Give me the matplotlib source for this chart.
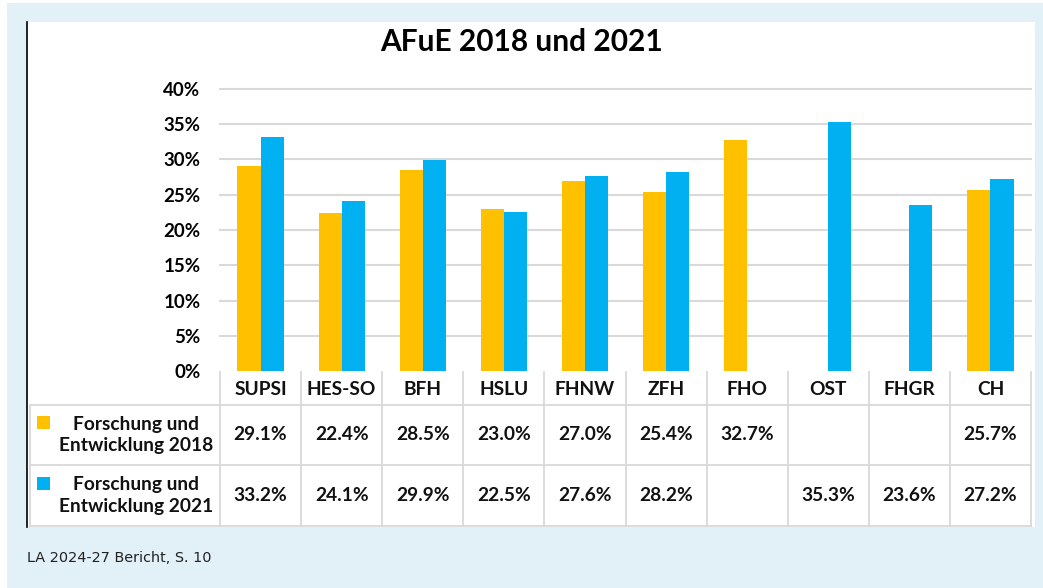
import matplotlib.pyplot as plt
from matplotlib.patches import Rectangle
from matplotlib.lines import Line2D

categories = ['SUPSI', 'HES-SO', 'BFH', 'HSLU', 'FHNW', 'ZFH', 'FHO', 'OST', 'FHGR', 'CH']
values_2018 = [29.1, 22.4, 28.5, 23.0, 27.0, 25.4, 32.7, None, None, 25.7]
values_2021 = [33.2, 24.1, 29.9, 22.5, 27.6, 28.2, None, 35.3, 23.6, 27.2]
series_labels = ['Forschung und\nEntwicklung 2018', 'Forschung und\nEntwicklung 2021']
title = 'AFuE 2018 und 2021'
caption = 'LA 2024-27 Bericht, S. 10'

orange = '#FFC000'
blue = '#00B0F0'
grid_col = '#D9D9D9'
font = 'Lato'

W, H = 1043, 588
fig = plt.figure(figsize=(W / 100, H / 100), dpi=100, facecolor='#E2F0F7')


def px(x0, y0, x1, y1):
    # pixel box (top-left origin) -> figure rect
    return [x0 / W, 1 - y1 / H, (x1 - x0) / W, (y1 - y0) / H]


# white panel with black left edge
bg = fig.add_axes([0, 0, 1, 1])
bg.set_xlim(0, W)
bg.set_ylim(H, 0)
bg.axis('off')
bg.add_patch(Rectangle((0, 0), W, 3, color='white', lw=0))
bg.add_patch(Rectangle((0, 0), 7, H, color='white', lw=0))
bg.add_patch(Rectangle((27, 22), 1008, 505, color='white', lw=0))
bg.add_line(Line2D([27, 27], [22, 527], color='black', lw=1.2))
bg.text(522, 42, title, ha='center', va='center', fontsize=21.5, fontweight='bold', family=font)
bg.text(27, 558, caption, ha='left', va='center', fontsize=10.4, family='DejaVu Sans', color='#222222')

# bar chart
ax = fig.add_axes(px(220, 89, 1031, 371))
n = len(categories)
xs = list(range(n))
bw = 0.285
for i in xs:
    if values_2018[i] is not None:
        ax.bar(i - bw / 2, values_2018[i] / 100, width=bw, color=orange, zorder=3)
    if values_2021[i] is not None:
        ax.bar(i + bw / 2, values_2021[i] / 100, width=bw, color=blue, zorder=3)
ax.set_xlim(-0.5, n - 0.5)
ax.set_ylim(0, 0.40)
yt = [0.05 * k for k in range(9)]
ax.set_yticks(yt)
ax.set_yticklabels(['%d%%' % round(v * 100) for v in yt], fontsize=13.5, fontweight='bold', family=font)
ax.tick_params(axis='y', length=0, pad=14)
ax.set_xticks([])
for v in yt[1:]:
    ax.axhline(v, color=grid_col, lw=1.5, zorder=1, clip_on=False)
for s in ax.spines.values():
    s.set_visible(False)
ax.patch.set_alpha(0)

# data table under the chart
tx0, tx1 = 30, 1031
col0 = 220
cw = (tx1 - col0) / n
y_head, y_r1, y_r2, y_end = 372, 405, 465, 526
for k in range(n + 1):
    x = col0 + k * cw
    bg.add_line(Line2D([x, x], [y_head, y_end], color=grid_col, lw=1.3))
bg.add_line(Line2D([tx0, tx0], [y_r1, y_end], color=grid_col, lw=1.3))
for y in [y_r1, y_r2, y_end]:
    bg.add_line(Line2D([tx0, tx1], [y, y], color=grid_col, lw=1.3))

txt_kw = dict(fontsize=13.8, fontweight='bold', family=font, color='#111111')
for i, c in enumerate(categories):
    cx = col0 + (i + 0.5) * cw
    bg.text(cx, (y_head + y_r1) / 2 + 1, c, ha='center', va='center', **txt_kw)
    if values_2018[i] is not None:
        bg.text(cx, (y_r1 + y_r2) / 2, '%.1f%%' % values_2018[i], ha='center', va='center', **txt_kw)
    if values_2021[i] is not None:
        bg.text(cx, (y_r2 + y_end) / 2, '%.1f%%' % values_2021[i], ha='center', va='center', **txt_kw)

for (r0, r1), lab, col in zip([(y_r1, y_r2), (y_r2, y_end)], series_labels, [orange, blue]):
    ym = (r0 + r1) / 2
    bg.add_patch(Rectangle((37, ym - 19), 13, 13, color=col, lw=0))
    bg.text(136, ym, lab, ha='center', va='center', linespacing=1.35, **txt_kw)

fig.savefig('out.png', dpi=100, facecolor=fig.get_facecolor())
